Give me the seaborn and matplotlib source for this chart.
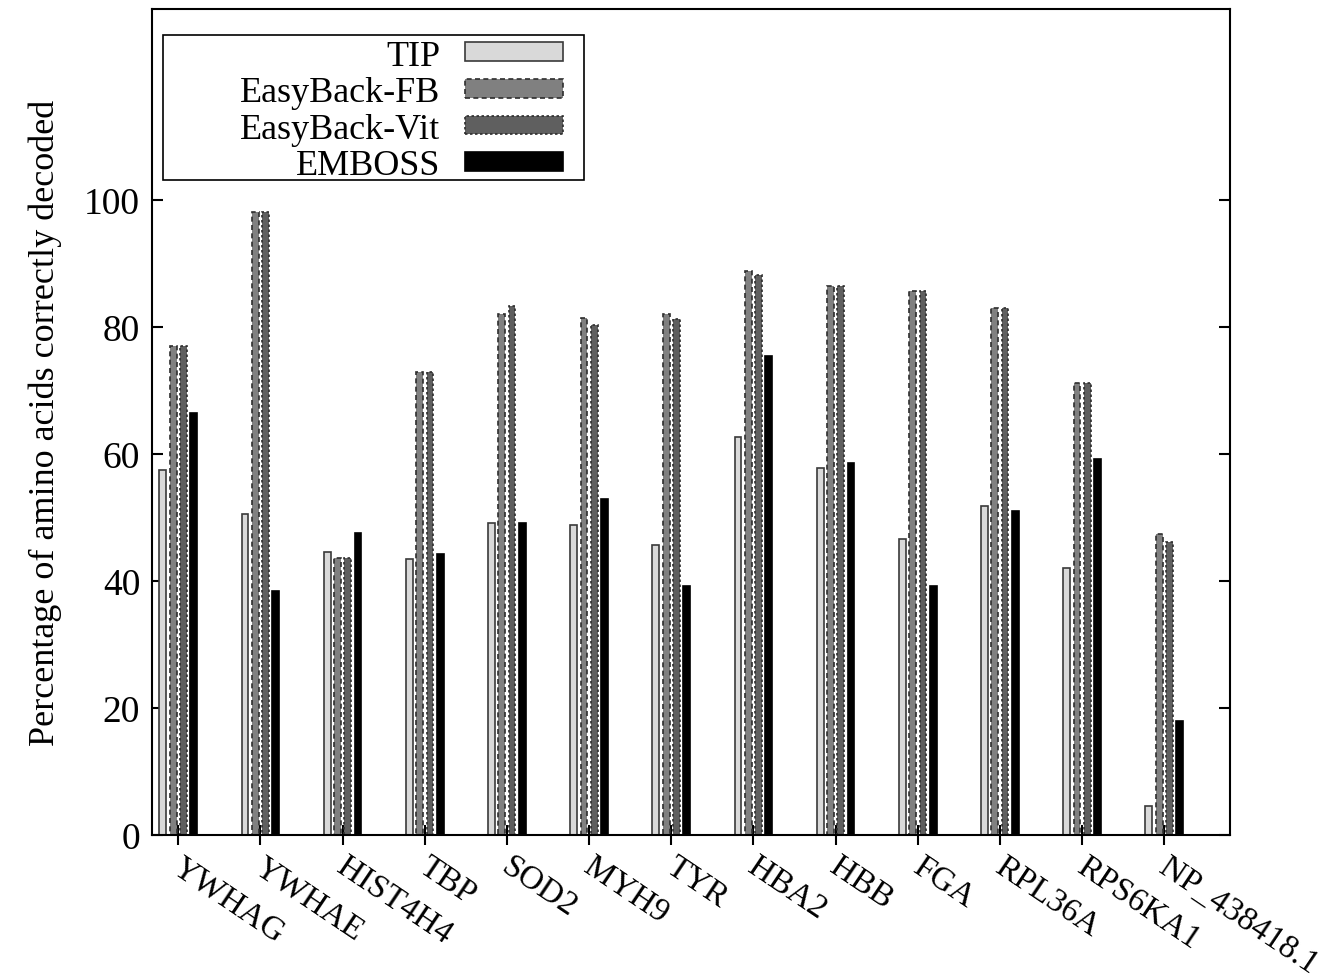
import numpy as np
import pandas as pd
import matplotlib
matplotlib.use("Agg")
import matplotlib.pyplot as plt
import matplotlib.transforms as mtransforms
import seaborn as sns
from matplotlib.patches import Patch, Rectangle

# Proteins on the x axis
genes = ["YWHAG", "YWHAE", "HIST4H4", "TBP", "SOD2", "MYH9", "TYR",
         "HBA2", "HBB", "FGA", "RPL36A", "RPS6KA1", "NP_438418.1"]
methods = ["TIP", "EasyBack-FB", "EasyBack-Vit", "EMBOSS"]

# Percentage of amino acids correctly decoded, per method
tip = [57.5, 50.5, 44.6, 43.4, 49.1, 48.8, 45.7, 62.7, 57.8, 46.6, 51.8, 42.0, 4.5]
easyback_fb = [76.9, 98.0, 43.6, 72.9, 82.0, 81.4, 82.0, 88.7, 86.4, 85.6, 83.0, 71.1, 47.3]
easyback_vit = [77.0, 98.0, 43.6, 72.9, 83.3, 80.2, 81.2, 88.1, 86.4, 85.6, 83.0, 71.1, 46.1]
emboss = [66.4, 38.4, 47.5, 44.3, 49.1, 52.9, 39.2, 75.4, 58.6, 39.2, 51.0, 59.1, 17.9]

df = pd.DataFrame({
    "gene": genes * 4,
    "method": np.repeat(methods, len(genes)),
    "value": tip + easyback_fb + easyback_vit + emboss,
})

sns.set_theme(style="ticks")
plt.rcParams.update({
    "font.family": ["Liberation Serif", "DejaVu Serif"],
    "text.color": "black",
    "axes.labelcolor": "black",
    "xtick.color": "black",
    "ytick.color": "black",
})

face = {"TIP": "#d9d9d9", "EasyBack-FB": "#808080",
        "EasyBack-Vit": "#5f5f5f", "EMBOSS": "#000000"}
edge = {"TIP": "#3a3a3a", "EasyBack-FB": "#2e2e2e",
        "EasyBack-Vit": "#2e2e2e", "EMBOSS": "#000000"}
style = {"TIP": "-", "EasyBack-FB": (0, (3, 2)),
         "EasyBack-Vit": (0, (1.5, 1.5)), "EMBOSS": "-"}

fig = plt.figure(figsize=(13.39, 9.78), dpi=100)
ax = fig.add_axes([0.1135, 0.1452, 0.8051, 0.8446])

sns.barplot(data=df, x="gene", y="value", hue="method", order=genes,
            hue_order=methods, palette=face, width=0.5, gap=0.34,
            dodge=True, saturation=1, errorbar=None, legend=False, ax=ax)

for cont, m in zip(ax.containers, methods):
    for p in cont:
        p.set_edgecolor(edge[m])
        p.set_linestyle(style[m])
        p.set_linewidth(1.2)

ax.set_xlim(-0.32, 12.8)
ax.set_ylim(0, 130)
ax.set_yticks(range(0, 101, 20))
ax.set_xlabel("")
ax.set_ylabel("Percentage of amino acids correctly decoded", fontsize=26,
              labelpad=16)

for s in ax.spines.values():
    s.set_visible(True)
    s.set_color("black")
    s.set_linewidth(1.5)

ax.tick_params(axis="y", which="major", direction="in", length=8, width=1.5,
               left=True, right=True, labelsize=27, pad=8.5, colors="black")
ax.tick_params(axis="x", which="major", direction="inout", length=15,
               width=1.5, bottom=True, top=False, labelsize=24, pad=4,
               colors="black")

shift = mtransforms.ScaledTranslation(6 / 100, 0, fig.dpi_scale_trans)
for lbl in ax.get_xticklabels():
    lbl.set_rotation(-34)
    lbl.set_horizontalalignment("left")
    lbl.set_verticalalignment("top")
    lbl.set_rotation_mode("anchor")
    lbl.set_transform(lbl.get_transform() + shift)

# Key: labels right-aligned to the left of the swatches, inside a plain box
handles = [Patch(facecolor=face[m], edgecolor=edge[m], linestyle=style[m],
                 linewidth=1.2, label=m) for m in methods]
leg = ax.legend(handles=handles, loc="upper right",
                bbox_to_anchor=(0.3813, 0.963), borderaxespad=0,
                markerfirst=False, fontsize=26, handlelength=2.71,
                handleheight=0.42, handletextpad=0.69, labelspacing=0.1,
                borderpad=0, frameon=False)
ax.add_patch(Rectangle((0.0102, 0.793), 0.3905, 0.1755, transform=ax.transAxes,
                       facecolor="white", edgecolor="black", linewidth=1.2,
                       zorder=4))
leg.set_zorder(5)

fig.savefig("out.png", dpi=100, facecolor="white")
